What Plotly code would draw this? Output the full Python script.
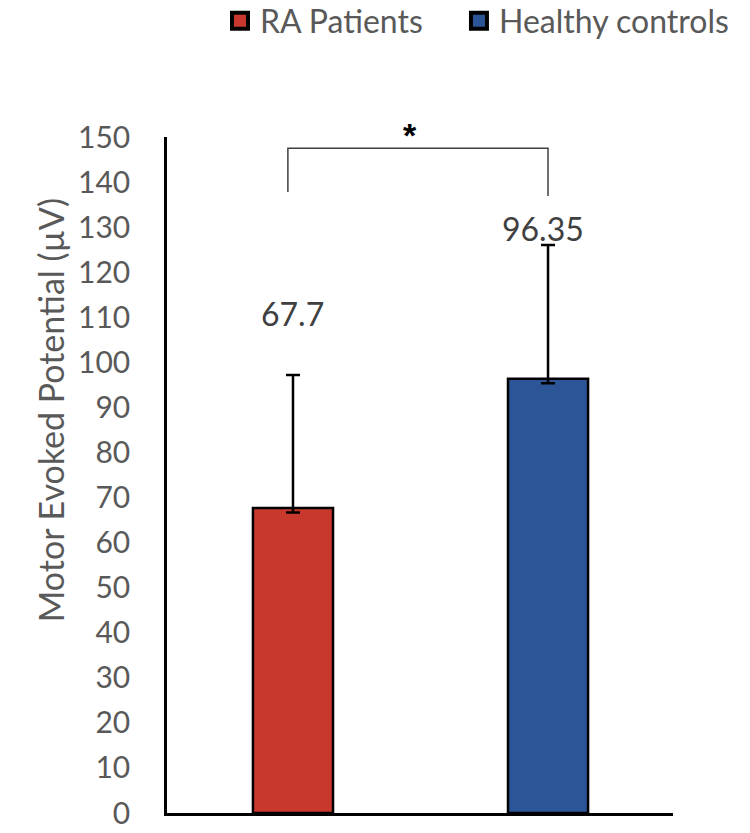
import plotly.graph_objects as go

groups = ["RA Patients", "Healthy controls"]
means = [67.7, 96.35]
sd_plus = [29.5, 29.7]
sd_minus = [1.0, 1.0]
value_labels = ["67.7", "96.35"]
label_y = [110.9, 129.8]
colors = ["#C9382D", "#2C5597"]
y_ticks = list(range(0, 151, 10))
y_title = "Motor Evoked Potential (µV)"

fig = go.Figure()
for i, g in enumerate(groups):
    fig.add_trace(go.Bar(
        x=[i], y=[means[i]], name=g, width=0.314, showlegend=False,
        marker=dict(color=colors[i], line=dict(color="black", width=2.5)),
        error_y=dict(type="data", symmetric=False, array=[sd_plus[i]], arrayminus=[sd_minus[i]],
                     color="black", thickness=2.5, width=7),
    ))
    fig.add_annotation(x=i, y=label_y[i], text=value_labels[i], showarrow=False,
                       xshift=(0 if i == 0 else -5),
                       font=dict(size=32, color="#404040"), yanchor="middle")

# legend entries (one legend box per entry so the spacing matches)
legend_ids = ["legend", "legend2"]
for i, g in enumerate(groups):
    fig.add_trace(go.Scatter(
        x=[None], y=[None], mode="markers", name=g, legend=legend_ids[i],
        marker=dict(symbol="square", size=16, color=colors[i], line=dict(color="black", width=4)),
    ))

# significance bracket
fig.add_shape(type="path", xref="x", yref="y",
              path="M -0.02,137.8 L -0.02,147.5 L 1.0,147.5 L 1.0,136.9",
              line=dict(color="#404040", width=1.5))
fig.add_annotation(x=0.46, y=147.5, text="<b>*</b>", showarrow=False, yanchor="bottom",
                   font=dict(family="Arial, Liberation Sans", size=34, color="black"), yshift=-8)

# y-axis title (placed off-centre like the reference)
fig.add_annotation(xref="paper", yref="paper", x=-0.231, y=0.596, text=y_title, textangle=-90,
                   showarrow=False, xanchor="center", yanchor="middle",
                   font=dict(size=34, color="#595959"))

legend_style = dict(orientation="h", xref="paper", yref="paper", xanchor="left",
                    y=1.1716, yanchor="middle", font=dict(size=32, color="#595959"),
                    itemwidth=30)
fig.update_layout(
    width=750, height=833,
    margin=dict(l=159, r=85, t=129, b=28, autoexpand=False),
    plot_bgcolor="white", paper_bgcolor="white",
    font=dict(family="Lato, Open Sans, sans-serif", color="#595959"),
    showlegend=True,
    legend=dict(x=0.1047, **legend_style),
    legend2=dict(x=0.577, **legend_style),
    bargap=0.5,
)
fig.update_xaxes(range=[-0.494, 1.49], showticklabels=False, showgrid=False, zeroline=False,
                 showline=True, linecolor="black", linewidth=2.5, ticks="", automargin=False)
fig.update_yaxes(range=[0, 150], tickvals=y_ticks, showgrid=False, zeroline=False,
                 showline=True, linecolor="black", linewidth=2.5, ticks="", automargin=False,
                 tickfont=dict(size=30, color="#595959"), ticklabelstandoff=28)

fig.write_html("out.html")
